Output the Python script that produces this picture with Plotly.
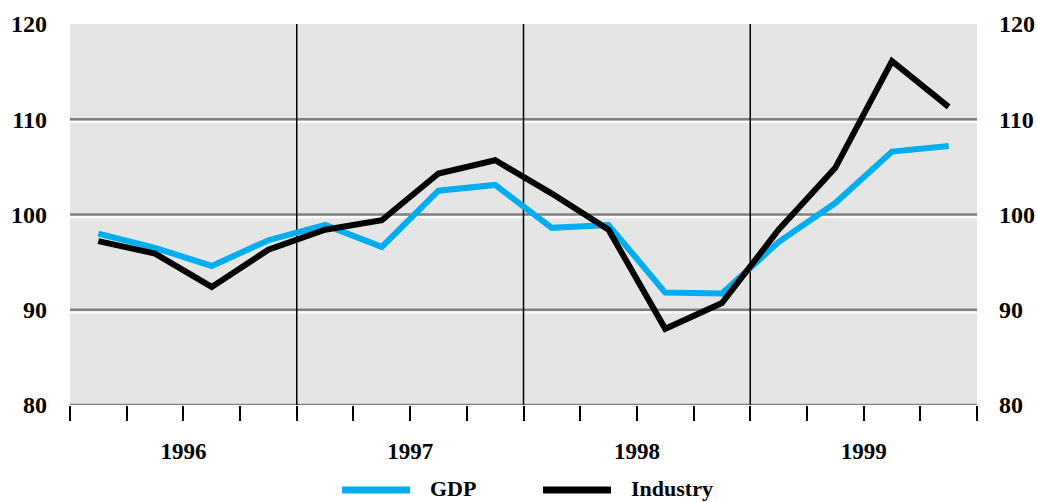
import plotly.graph_objects as go

# quarterly index values, 1996Q1 .. 1999Q4
GDP = [98.0, 96.5, 94.6, 97.3, 98.9, 96.6, 102.5, 103.1,
       98.6, 98.9, 91.8, 91.7, 97.1, 101.2, 106.6, 107.2]
INDUSTRY = [97.2, 95.9, 92.4, 96.3, 98.4, 99.4, 104.3, 105.7,
            102.2, 98.4, 88.0, 90.7, 98.4, 104.9, 116.1, 111.3]
YEARS = ["1996", "1997", "1998", "1999"]
Y_TICKS = [80, 90, 100, 110, 120]
GRID_LEVELS = [80, 90, 100, 110]

x = [i + 0.5 for i in range(len(GDP))]
year_mid = [4 * i + 2 for i in range(len(YEARS))]
year_edges = [4 * i for i in range(1, len(YEARS))]

SERIF = "Liberation Serif, DejaVu Serif, serif"
TICK_FONT = dict(family=SERIF, size=24, color="black", weight="bold")
YEAR_FONT = dict(family=SERIF, size=23, color="black", weight="bold")
LEG_FONT = dict(family=SERIF, size=22, color="black", weight="bold")

series = [("GDP", GDP, "#00AEEF"), ("Industry", INDUSTRY, "black")]

fig = go.Figure()
for name, vals, col in series:
    fig.add_trace(go.Scatter(x=x, y=vals, name=name, mode="lines",
                             line=dict(color=col, width=6), showlegend=False))
# dummy trace to carry the right-hand axis
fig.add_trace(go.Scatter(x=[None], y=[None], yaxis="y2", showlegend=False, hoverinfo="skip"))

shapes = []
for lv in GRID_LEVELS:
    shapes.append(dict(type="line", xref="paper", x0=0, x1=1, yref="y", y0=lv, y1=lv,
                       line=dict(color="#808080", width=2.5), layer="below"))
    if lv > 80:
        shapes.append(dict(type="line", xref="paper", x0=0, x1=1, yref="y", y0=lv - 0.3, y1=lv - 0.3,
                           line=dict(color="white", width=2), layer="below"))
for e in year_edges:
    shapes.append(dict(type="line", xref="x", x0=e, x1=e, yref="paper", y0=0, y1=1,
                       line=dict(color="black", width=1.5), layer="below"))

# hand-drawn legend below the chart (longer line samples than plotly's own)
annotations = []
leg_y = -0.223
leg_x = [0.300, 0.5215]
for (name, vals, col), lx in zip(series, leg_x):
    shapes.append(dict(type="line", xref="paper", yref="paper", x0=lx, x1=lx + 0.075,
                       y0=leg_y, y1=leg_y, line=dict(color=col, width=7)))
    annotations.append(dict(xref="paper", yref="paper", x=lx + 0.095, y=leg_y + 0.004, text=name,
                            showarrow=False, xanchor="left", yanchor="middle", font=LEG_FONT))

fig.update_layout(
    width=1037, height=502,
    margin=dict(l=70, r=60, t=24, b=97),
    paper_bgcolor="white",
    plot_bgcolor="#E5E5E5",
    shapes=shapes,
    annotations=annotations,
    showlegend=False,
    xaxis=dict(range=[0, len(GDP)], showgrid=False, zeroline=False, showline=False,
               automargin=False,
               tickvals=year_mid, ticktext=YEARS, ticks="", tickfont=YEAR_FONT,
               ticklabelstandoff=30,
               minor=dict(tickvals=list(range(len(GDP) + 1)), ticks="outside",
                          ticklen=15, tickwidth=1.5, tickcolor="black", showgrid=False)),
    yaxis=dict(range=[80, 120], tickvals=Y_TICKS, showgrid=False, zeroline=False,
               automargin=False,
               showline=False, ticks="", tickfont=TICK_FONT, ticklabelstandoff=22),
    yaxis2=dict(range=[80, 120], tickvals=Y_TICKS, overlaying="y", side="right",
                automargin=False,
                showgrid=False, zeroline=False, showline=False, ticks="",
                tickfont=TICK_FONT, ticklabelstandoff=21),
)

# drop the default 8px body margin so the figure fills the window exactly
fig.write_html("out.html", config={"displayModeBar": False},
               post_script="document.body.style.margin='0';document.body.style.overflow='hidden';")
